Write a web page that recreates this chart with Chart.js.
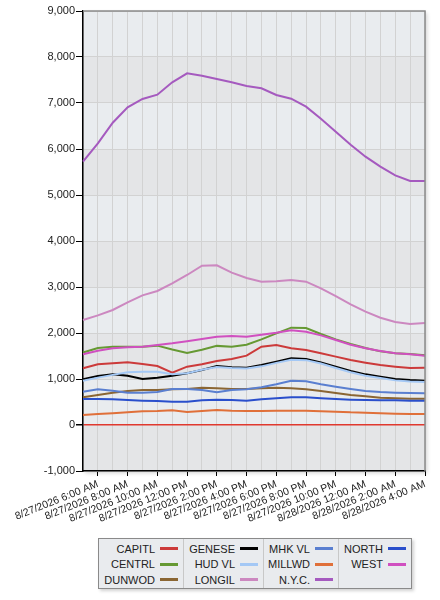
<!DOCTYPE html>
<html>
<head>
<meta charset="utf-8">
<script src="https://cdn.jsdelivr.net/npm/chart.js@4.4.1/dist/chart.umd.min.js"></script>
<style>
  html, body { margin: 0; padding: 0; background: #fff; }
  body { width: 440px; height: 600px; position: relative; overflow: hidden; font-family: "Liberation Sans", Arial, sans-serif; }
  #wrap { position: absolute; left: 0; top: 0; width: 440px; height: 535px; }
  #legend { position: absolute; left: 98px; top: 538px; height: 51px; background: #e9ebee; border: 1px solid #8a8a8a; box-shadow: 2px 2px 3px rgba(0,0,0,0.18); display: flex; box-sizing: border-box; }
  .col { border-left: 1px solid #c8c8c8; padding-top: 2px; box-sizing: border-box; }
  .col:first-child { border-left: none; }
  .item { height: 15.5px; display: flex; align-items: center; justify-content: flex-end; font-size: 11px; color: #222; padding-right: 5px; }
  .sw { width: 18px; height: 3px; margin-left: 5px; }
</style>
</head>
<body>
<div id="wrap"><canvas id="c"></canvas></div>
<div id="legend"></div>
<script>
const categories = [
  "8/27/2026 5:00 AM","8/27/2026 6:00 AM","8/27/2026 7:00 AM","8/27/2026 8:00 AM",
  "8/27/2026 9:00 AM","8/27/2026 10:00 AM","8/27/2026 11:00 AM","8/27/2026 12:00 PM",
  "8/27/2026 1:00 PM","8/27/2026 2:00 PM","8/27/2026 3:00 PM","8/27/2026 4:00 PM",
  "8/27/2026 5:00 PM","8/27/2026 6:00 PM","8/27/2026 7:00 PM","8/27/2026 8:00 PM",
  "8/27/2026 9:00 PM","8/27/2026 10:00 PM","8/27/2026 11:00 PM","8/28/2026 12:00 AM",
  "8/28/2026 1:00 AM","8/28/2026 2:00 AM","8/28/2026 3:00 AM","8/28/2026 4:00 AM"
];
const seriesNames = ["CAPITL","CENTRL","DUNWOD","GENESE","HUD VL","LONGIL","MHK VL","MILLWD","N.Y.C.","NORTH","WEST"];
const seriesColors = ["#cc3a3a","#669933","#8b6633","#000000","#a4c8f5","#cc88c0","#5a7fd0","#e0703a","#a55abf","#2a4fcc","#d050c0"];

const capitl = [1232,1319,1341,1362,1326,1283,1138,1268,1319,1391,1435,1507,1703,1739,1667,1630,1558,1486,1413,1355,1304,1268,1239,1246];
const centrl = [1575,1674,1703,1700,1703,1725,1640,1565,1635,1720,1700,1745,1862,1993,2116,2109,1978,1862,1761,1674,1601,1558,1543,1515];
const dunwod = [601,652,703,739,761,761,775,783,812,797,783,783,797,812,797,775,739,696,652,623,594,580,572,572];
const genese = [993,1065,1101,1072,1000,1029,1072,1123,1196,1283,1254,1246,1304,1377,1449,1435,1362,1268,1174,1101,1051,1000,978,964];
const hudvl  = [960,1030,1090,1145,1160,1160,1105,1125,1200,1260,1240,1230,1275,1350,1420,1410,1335,1240,1145,1070,1020,970,948,935];
const longil = [2283,2384,2500,2667,2819,2913,3080,3261,3464,3471,3312,3196,3116,3123,3152,3116,2971,2804,2623,2464,2333,2239,2196,2217];
const mhkvl  = [725,775,746,703,703,717,783,783,761,710,761,775,819,884,964,950,884,833,783,739,717,703,696,688];
const millwd = [217,239,254,275,297,304,319,283,304,326,311,304,304,311,311,311,297,290,275,268,254,246,239,239];
const nyc    = [5724,6123,6572,6906,7087,7181,7449,7645,7594,7522,7449,7370,7319,7174,7094,6920,6659,6377,6094,5833,5616,5428,5304,5304];
const north  = [565,565,558,543,529,522,507,507,536,551,543,529,558,580,601,601,580,565,551,543,536,536,529,529];
const west   = [1536,1616,1667,1688,1703,1739,1775,1819,1870,1920,1935,1920,1964,2007,2058,2029,1949,1848,1746,1667,1609,1558,1536,1507];
const seriesValues = [capitl,centrl,dunwod,genese,hudvl,longil,mhkvl,millwd,nyc,north,west];

const yTicks = [-1000,0,1000,2000,3000,4000,5000,6000,7000,8000,9000];

const CH = 535;
const bandPlugin = {
  id: 'bands',
  beforeDraw(chart) {
    const { ctx, chartArea: a, scales: { y } } = chart;
    ctx.save();
    ctx.shadowColor = 'rgba(0,0,0,0.18)';
    ctx.shadowBlur = 4; ctx.shadowOffsetX = 2; ctx.shadowOffsetY = 2;
    ctx.fillStyle = '#e6e8ea';
    ctx.fillRect(a.left, a.top, a.right - a.left, a.bottom - a.top);
    ctx.restore();
    ctx.save();
    const t = y.ticks;
    for (let k = 0; k < t.length - 1; k++) {
      const y1 = y.getPixelForValue(t[k].value), y2 = y.getPixelForValue(t[k + 1].value);
      ctx.fillStyle = (k % 2 === 1) ? '#e9ecef' : '#e4e5e7';
      ctx.fillRect(a.left, y2, a.right - a.left, y1 - y2);
    }
    ctx.restore();
  },
  afterDraw(chart) {
    const { ctx, chartArea: a } = chart;
    ctx.save();
    ctx.strokeStyle = '#8a8a8a'; ctx.lineWidth = 1.5;
    ctx.beginPath();
    ctx.moveTo(a.left, a.top); ctx.lineTo(a.right, a.top); ctx.lineTo(a.right, a.bottom);
    ctx.stroke();
    ctx.restore();
  }
};

const canvas = document.getElementById('c');
canvas.width = 440; canvas.height = CH;

const chart = new Chart(canvas, {
  type: 'line',
  data: {
    labels: categories,
    datasets: seriesNames.map((n, i) => ({
      label: n, data: seriesValues[i], borderColor: seriesColors[i], backgroundColor: seriesColors[i],
      borderWidth: 2, pointRadius: 0, tension: 0, fill: false, order: -i
    }))
  },
  options: {
    responsive: false, animation: false, maintainAspectRatio: false,
    layout: { padding: { top: 11, right: 15, left: 0, bottom: 0 } },
    plugins: { legend: { display: false }, tooltip: { enabled: false } },
    scales: {
      x: {
        type: 'category', offset: false,
        afterFit(s) { s.height = CH - 471; },
        grid: {
          offset: false, color: '#d2d2d2', lineWidth: 1, tickLength: 5,
          tickColor: (c) => (c.index % 2 === 1 ? '#000' : 'rgba(0,0,0,0)')
        },
        border: { color: '#000', width: 1.5 },
        ticks: {
          autoSkip: false, minRotation: 22, maxRotation: 22, padding: 2,
          color: '#222', font: { family: '"Liberation Sans", Arial, sans-serif', size: 10.5 },
          callback(v, i) { return i % 2 === 1 ? categories[i] : ''; }
        }
      },
      y: {
        min: -1000, max: 9000,
        afterFit(s) { s.width = 83; },
        afterBuildTicks(s) { s.ticks = yTicks.map(v => ({ value: v })); },
        grid: {
          color: (c) => (c.tick && c.tick.value === 0 ? '#e0392f' : '#d2d2d2'),
          lineWidth: (c) => (c.tick && c.tick.value === 0 ? 1.5 : 1),
          tickLength: 7, tickColor: '#000'
        },
        border: { color: '#000', width: 1.5 },
        ticks: {
          padding: 1, color: '#222', font: { family: '"Liberation Sans", Arial, sans-serif', size: 11 },
          callback(v) { return Number(v).toLocaleString('en-US'); }
        }
      }
    }
  },
  plugins: [bandPlugin]
});

// HTML legend built from datasets: 4 columns x 3 rows, column-major
const legend = document.getElementById('legend');
const colWidths = [84, 80, 75, 73];
const ds = chart.data.datasets;
for (let c = 0; c < 4; c++) {
  const col = document.createElement('div');
  col.className = 'col';
  col.style.width = colWidths[c] + 'px';
  for (let r = 0; r < 3; r++) {
    const idx = c * 3 + r;
    const it = document.createElement('div');
    it.className = 'item';
    if (idx < ds.length) {
      const span = document.createElement('span');
      span.textContent = ds[idx].label;
      const sw = document.createElement('span');
      sw.className = 'sw';
      sw.style.background = ds[idx].borderColor;
      it.appendChild(span); it.appendChild(sw);
    }
    col.appendChild(it);
  }
  legend.appendChild(col);
}
</script>
</body>
</html>
